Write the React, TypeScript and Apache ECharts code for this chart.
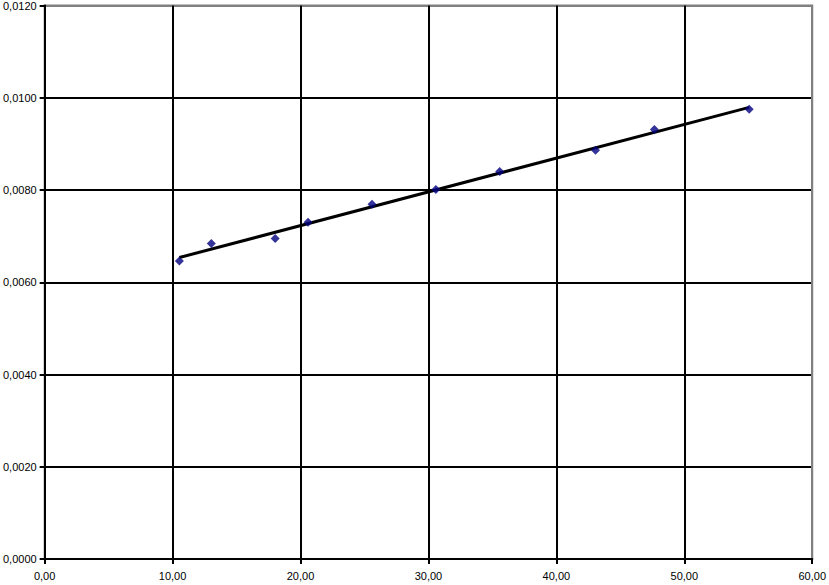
import React, { useEffect, useRef } from "react";
import * as echarts from "echarts";

const xValues = [10.53, 13.03, 18.02, 20.59, 25.59, 30.58, 35.57, 43.06, 47.66, 55.07];
const yValues = [0.00646, 0.00684, 0.00695, 0.0073, 0.00769, 0.00801, 0.0084, 0.00886, 0.00931, 0.00975];
const xTickInterval = 10;
const yTickInterval = 0.002;

function regression(xs: number[], ys: number[]) {
  const n = xs.length;
  const mx = xs.reduce((a, b) => a + b, 0) / n;
  const my = ys.reduce((a, b) => a + b, 0) / n;
  let sxy = 0;
  let sxx = 0;
  for (let i = 0; i < n; i++) {
    sxy += (xs[i] - mx) * (ys[i] - my);
    sxx += (xs[i] - mx) * (xs[i] - mx);
  }
  const slope = sxy / sxx;
  return { slope, intercept: my - slope * mx };
}

const gridColors = ["#000", "#000", "#000", "#000", "#000", "#000", "#808080"];

export default function App() {
  const ref = useRef<HTMLDivElement>(null);
  useEffect(() => {
    document.body.style.margin = "0";
    const chart = echarts.init(ref.current!, undefined, { renderer: "svg" });
    const { slope, intercept } = regression(xValues, yValues);
    const x0 = Math.min(...xValues);
    const x1 = Math.max(...xValues);
    const trend = [
      [x0, intercept + slope * x0],
      [x1, intercept + slope * x1],
    ];
    const points = xValues.map((x, i) => [x, yValues[i]]);
    const font = "Liberation Sans, Arial, Helvetica, sans-serif";
    chart.setOption({
      animation: false,
      backgroundColor: "#ffffff",
      grid: {
        left: 43,
        right: 16,
        top: 5,
        bottom: 26,
        show: true,
        borderColor: "#808080",
        borderWidth: 2,
        backgroundColor: "transparent",
      },
      xAxis: {
        type: "value",
        min: 0,
        max: 60,
        interval: xTickInterval,
        axisLine: { show: true, onZero: false, lineStyle: { color: "#000", width: 2 } },
        axisTick: { show: true, length: 5, lineStyle: { color: "#000", width: 2 } },
        splitLine: { show: true, lineStyle: { color: gridColors, width: 2 } },
        axisLabel: {
          color: "#000",
          fontSize: 11,
          fontFamily: font,
          margin: 11,
          formatter: (v: number) => v.toFixed(2).replace(".", ","),
        },
      },
      yAxis: {
        type: "value",
        min: 0,
        max: 0.012,
        interval: yTickInterval,
        axisLine: { show: true, onZero: false, lineStyle: { color: "#000", width: 2 } },
        axisTick: { show: true, length: 5, lineStyle: { color: "#000", width: 2 } },
        splitLine: { show: true, lineStyle: { color: gridColors, width: 2 } },
        axisLabel: {
          color: "#000",
          fontSize: 11,
          fontFamily: font,
          margin: 8,
          formatter: (v: number) => v.toFixed(4).replace(".", ","),
        },
      },
      series: [
        {
          type: "line",
          data: trend,
          showSymbol: false,
          symbol: "none",
          lineStyle: { color: "#000", width: 3 },
          z: 3,
        },
        {
          type: "scatter",
          data: points,
          symbol: "diamond",
          symbolSize: 9,
          itemStyle: { color: "#000080" },
          z: 4,
        },
      ],
    });
    return () => chart.dispose();
  }, []);
  return <div ref={ref} style={{ width: 829, height: 585, position: "absolute", left: 0, top: 0 }} />;
}
